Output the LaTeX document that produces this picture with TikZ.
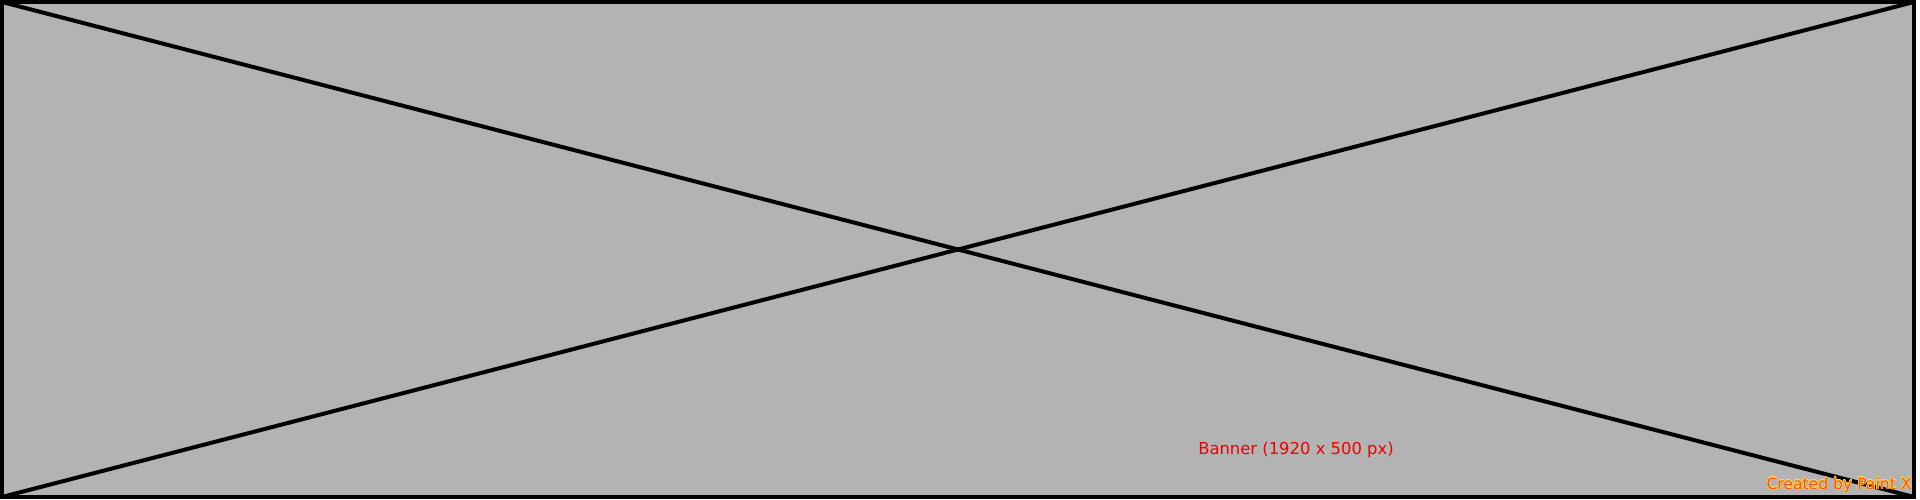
\documentclass[tikz,border=0pt]{standalone}
\usepackage{fontspec}
\usepackage{contour}
\newfontfamily\bannerfont{DejaVu Sans}
\definecolor{bannergray}{RGB}{179,179,179}
\definecolor{labelred}{RGB}{240,0,0}
\definecolor{markorange}{RGB}{255,80,20}
\definecolor{markhalo}{RGB}{255,220,60}
\contourlength{0.35pt}
\begin{document}
\begin{tikzpicture}[
                x=1bp,y=1bp,
                every node/.append style={inner sep=0pt,font=\bannerfont\fontsize{16.4bp}{18bp}\selectfont},
                frame/.style={draw=black,line width=4bp,fill=bannergray},
                cross/.style={draw=black,line width=4bp}
            ]
                \useasboundingbox[fill=white] (0,0) rectangle (1920,500);
                \coordinate (SW) at (2,3);
                \coordinate (NE) at (1914,498);
                \coordinate (NW) at (SW |- NE);
                \coordinate (SE) at (NE |- SW);
                \draw[frame] (SW) rectangle (NE);
                \draw[cross] (NW) -- (SE);
                \draw[cross] (SW) -- (NE);
                \node[text=labelred] (size) at (1296,50) {Banner (1920 x 500 px)};
                \node[text=markorange,font=\bannerfont\fontsize{15.6bp}{17bp}\selectfont] (credit) at (1839,15) {\contour{markhalo}{Created by Paint X}};
            \end{tikzpicture}
\end{document}
